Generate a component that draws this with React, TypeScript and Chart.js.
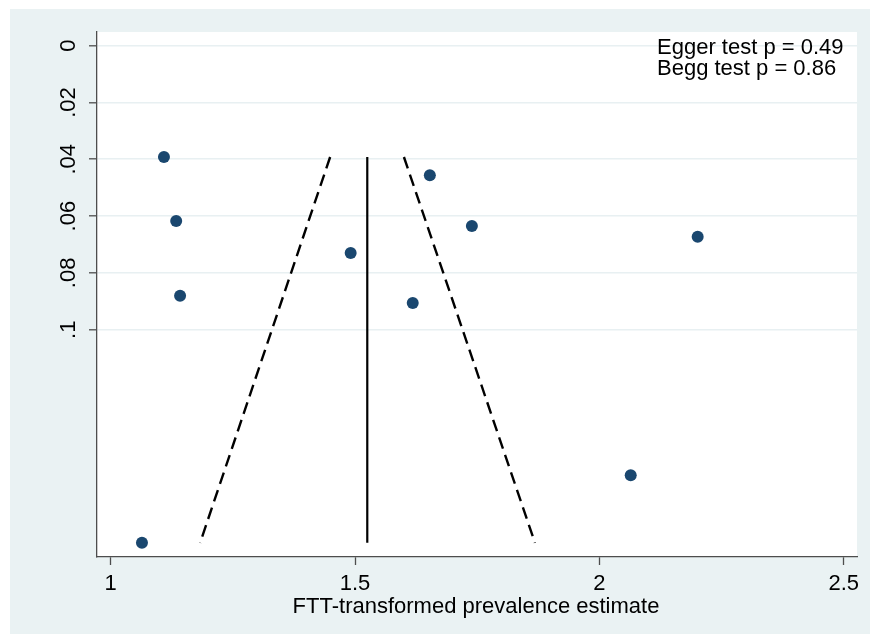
import React, { useEffect, useRef } from "react";
import { Chart, registerables } from "chart.js";

Chart.register(...registerables);

// Study-level estimates (FTT-transformed prevalence) and their standard errors
const studyEffect = [1.109, 1.653, 1.134, 1.739, 2.201, 1.491, 1.142, 1.618, 2.064, 1.064];
const studySE = [0.0392, 0.0456, 0.0617, 0.0635, 0.0673, 0.073, 0.088, 0.0906, 0.1512, 0.175];

// Pooled estimate line and pseudo 95% confidence limits
const pooledEffect = 1.525;
const seRange = [0.0392, 0.175];
const ciLower = [1.449, 1.183];
const ciUpper = [1.600, 1.868];

// Axis ticks
const xTicks = [1, 1.5, 2, 2.5];
const yTicks = [0, 0.02, 0.04, 0.06, 0.08, 0.1];
const yTickLabels = ["0", ".02", ".04", ".06", ".08", ".1"];

const annotationLines = ["Egger test p = 0.49", "Begg test p = 0.86"];
const xTitle = "FTT-transformed prevalence estimate";

const FONT = "'Liberation Sans', Arial, Helvetica, sans-serif";
const FSIZE = 22;
const OUTER_BG = "#eaf2f3";

export default function App() {
  const ref = useRef<HTMLCanvasElement | null>(null);

  useEffect(() => {
    document.body.style.margin = "0";
    document.body.style.overflow = "hidden";
    const canvas = ref.current;
    if (!canvas) return;

    const bgPlugin = {
      id: "bgPlugin",
      beforeDraw(chart: any) {
        const { ctx, chartArea } = chart;
        ctx.save();
        ctx.fillStyle = "#ffffff";
        ctx.fillRect(0, 0, chart.width, chart.height);
        ctx.fillStyle = OUTER_BG;
        ctx.fillRect(10, 9, chart.width - 10, chart.height - 9);
        ctx.fillStyle = "#ffffff";
        ctx.fillRect(chartArea.left, chartArea.top, chartArea.right - chartArea.left, chartArea.bottom - chartArea.top);
        ctx.restore();
      },
      afterDraw(chart: any) {
        const { ctx, chartArea } = chart;
        const yScale = chart.scales.y;
        ctx.save();
        ctx.fillStyle = "#000";
        ctx.font = `${FSIZE}px ${FONT}`;
        // rotated y tick labels
        yTicks.forEach((v, i) => {
          const py = yScale.getPixelForValue(v);
          ctx.save();
          ctx.translate(74.5, py);
          ctx.rotate(-Math.PI / 2);
          ctx.textAlign = "center";
          ctx.textBaseline = "alphabetic";
          ctx.fillText(yTickLabels[i], 0, 0);
          ctx.restore();
        });
        // x title
        ctx.textAlign = "center";
        ctx.textBaseline = "alphabetic";
        ctx.fillText(xTitle, (chartArea.left + chartArea.right) / 2 - 1, 613);
        // annotation
        ctx.textAlign = "left";
        ctx.fillText(annotationLines[0], 657, 53.5);
        ctx.fillText(annotationLines[1], 657, 75);
        ctx.restore();
      },
    };

    const points = studyEffect.map((x, i) => ({ x, y: studySE[i] }));

    const chart = new Chart(canvas, {
      type: "scatter",
      data: {
        datasets: [
          {
            label: "Pooled",
            data: [
              { x: pooledEffect, y: seRange[0] },
              { x: pooledEffect, y: seRange[1] },
            ],
            showLine: true,
            borderColor: "#000",
            borderWidth: 2.2,
            pointRadius: 0,
          },
          {
            label: "Lower",
            data: [
              { x: ciLower[0], y: seRange[0] },
              { x: ciLower[1], y: seRange[1] },
            ],
            showLine: true,
            borderColor: "#000",
            borderWidth: 2.4,
            borderDash: [12, 6.5],
            pointRadius: 0,
          },
          {
            label: "Upper",
            data: [
              { x: ciUpper[0], y: seRange[0] },
              { x: ciUpper[1], y: seRange[1] },
            ],
            showLine: true,
            borderColor: "#000",
            borderWidth: 2.4,
            borderDash: [12, 6.5],
            pointRadius: 0,
          },
          {
            label: "Studies",
            data: points,
            pointRadius: 6,
            pointBackgroundColor: "#1a476f",
            pointBorderColor: "#1a476f",
            pointBorderWidth: 0,
          },
        ],
      },
      options: {
        responsive: false,
        animation: false,
        layout: { padding: { top: 32, right: 13, left: 0, bottom: 0 } },
        plugins: {
          legend: { display: false },
          tooltip: { enabled: false },
        },
        scales: {
          x: {
            type: "linear",
            min: 0.972,
            max: 2.527,
            afterBuildTicks(scale: any) {
              scale.ticks = xTicks.map((v) => ({ value: v }));
            },
            afterFit(scale: any) {
              scale.height = 77;
            },
            ticks: {
              color: "#000",
              font: { family: FONT, size: FSIZE },
              padding: 5.3,
              maxRotation: 0,
              autoSkip: false,
              callback: (v: any) => String(v),
            },
            grid: {
              drawOnChartArea: false,
              drawTicks: true,
              tickLength: 8,
              tickColor: "#4d4d4d",
              tickWidth: 1.3,
            },
            border: { color: "#4d4d4d", width: 1.3 },
          },
          y: {
            type: "linear",
            reverse: true,
            min: -0.0048,
            max: 0.18,
            afterBuildTicks(scale: any) {
              scale.ticks = yTicks.map((v) => ({ value: v }));
            },
            afterFit(scale: any) {
              scale.width = 97;
            },
            ticks: { display: false },
            grid: {
              color: "#e8f0f2",
              lineWidth: 1.6,
              drawTicks: true,
              tickLength: 8,
              tickColor: "#4d4d4d",
              tickWidth: 1.3,
            },
            border: { color: "#4d4d4d", width: 1.3 },
          },
        },
      },
      plugins: [bgPlugin],
    });

    return () => chart.destroy();
  }, []);

  return <canvas ref={ref} width={870} height={634} style={{ display: "block" }} />;
}
